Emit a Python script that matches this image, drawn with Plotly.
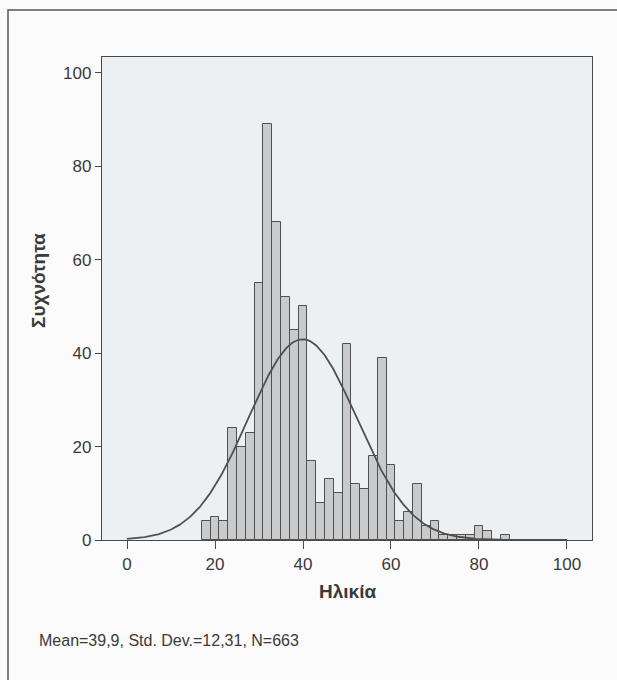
import numpy as np
import plotly.graph_objects as go

# Histogram bins (centres, width 2 years) and frequencies
age_bins = [18, 20, 22, 24, 26, 28, 30, 32, 34, 36, 38, 40, 42, 44, 46, 48, 50,
            52, 54, 56, 58, 60, 62, 64, 66, 68, 70, 72, 74, 76, 78, 80, 82, 84, 86]
frequency = [4, 5, 4, 24, 20, 23, 55, 89, 68, 52, 45, 50, 17, 8, 13, 10, 42,
             12, 11, 18, 39, 16, 4, 6, 12, 3, 4, 1, 1, 1, 1, 3, 2, 0, 1]
bin_width = 2

# Stated summary statistics
mean_age = 39.9
sd_age = 12.31
n_total = 663

x_ticks = [0, 20, 40, 60, 80, 100]
y_ticks = [0, 20, 40, 60, 80, 100]

# Fitted normal curve from the stated statistics
xc = np.linspace(0, 100, 401)
yc = n_total * bin_width / (sd_age * np.sqrt(2 * np.pi)) * np.exp(-0.5 * ((xc - mean_age) / sd_age) ** 2)

FONT = "Liberation Sans, Arial, sans-serif"
DARK = "#4a4a4a"
TXT = "#3a3a3a"

fig = go.Figure()
fig.add_trace(go.Bar(
    x=age_bins, y=frequency, width=bin_width,
    marker=dict(color="#c8cacb", line=dict(color="#505050", width=1)),
    showlegend=False,
))
fig.add_trace(go.Scatter(
    x=xc, y=yc, mode="lines",
    line=dict(color="#505050", width=1.8),
    showlegend=False,
))

W, H = 617, 680
L, R, T, B = 102, 25, 57, 140
pw, ph = W - L - R, H - T - B

def px_to_paper_x(px):
    return (px - L) / pw

def px_to_paper_y(py):
    return (H - B - py) / ph

fig.update_layout(
    width=W, height=H,
    margin=dict(l=L, r=R, t=T, b=B, pad=0),
    paper_bgcolor="#fbfbfb",
    plot_bgcolor="#edf0f3",
    font=dict(family=FONT, color=TXT, size=17),
    bargap=0,
    xaxis=dict(
        range=[-5.7, 105.7], tickvals=x_ticks, ticktext=[str(v) for v in x_ticks],
        ticks="outside", ticklen=8, tickcolor=DARK, tickwidth=1.3,
        showline=True, linecolor=DARK, linewidth=1.3, mirror=True,
        showgrid=False, zeroline=False,
        tickfont=dict(size=17, color=TXT),
    ),
    yaxis=dict(
        range=[0, 103.4], tickvals=y_ticks, ticktext=[str(v) for v in y_ticks],
        ticks="outside", ticklen=6, tickcolor=DARK, tickwidth=1.3,
        showline=True, linecolor=DARK, linewidth=1.3, mirror=True,
        showgrid=False, zeroline=False,
        tickfont=dict(size=17, color=TXT),
    ),
    shapes=[dict(
        type="rect", xref="paper", yref="paper",
        x0=px_to_paper_x(8), x1=px_to_paper_x(640),
        y0=px_to_paper_y(700), y1=px_to_paper_y(10),
        line=dict(color="#555555", width=1.5), fillcolor="rgba(0,0,0,0)",
        layer="below",
    )],
    annotations=[
        dict(
            text=f"Mean={str(mean_age).replace('.', ',')}, Std. Dev.={str(sd_age).replace('.', ',')}, N={n_total}",
            xref="paper", yref="paper",
            x=px_to_paper_x(37), y=px_to_paper_y(640),
            xanchor="left", yanchor="middle", showarrow=False,
            font=dict(size=16, color=TXT),
        ),
        dict(
            text="<b>Ηλικία</b>", xref="paper", yref="paper",
            x=px_to_paper_x(347), y=px_to_paper_y(591),
            xanchor="center", yanchor="middle", showarrow=False,
            font=dict(size=19, color=TXT),
        ),
        dict(
            text="<b>Συχνότητα</b>", xref="paper", yref="paper",
            x=px_to_paper_x(38), y=px_to_paper_y(281),
            xanchor="center", yanchor="middle", showarrow=False, textangle=-90,
            font=dict(size=19, color=TXT),
        ),
    ],
)

fig.write_html(
    "out.html",
    config={"displayModeBar": False},
    post_script="document.body.style.margin='0';document.body.style.overflow='hidden';",
)
